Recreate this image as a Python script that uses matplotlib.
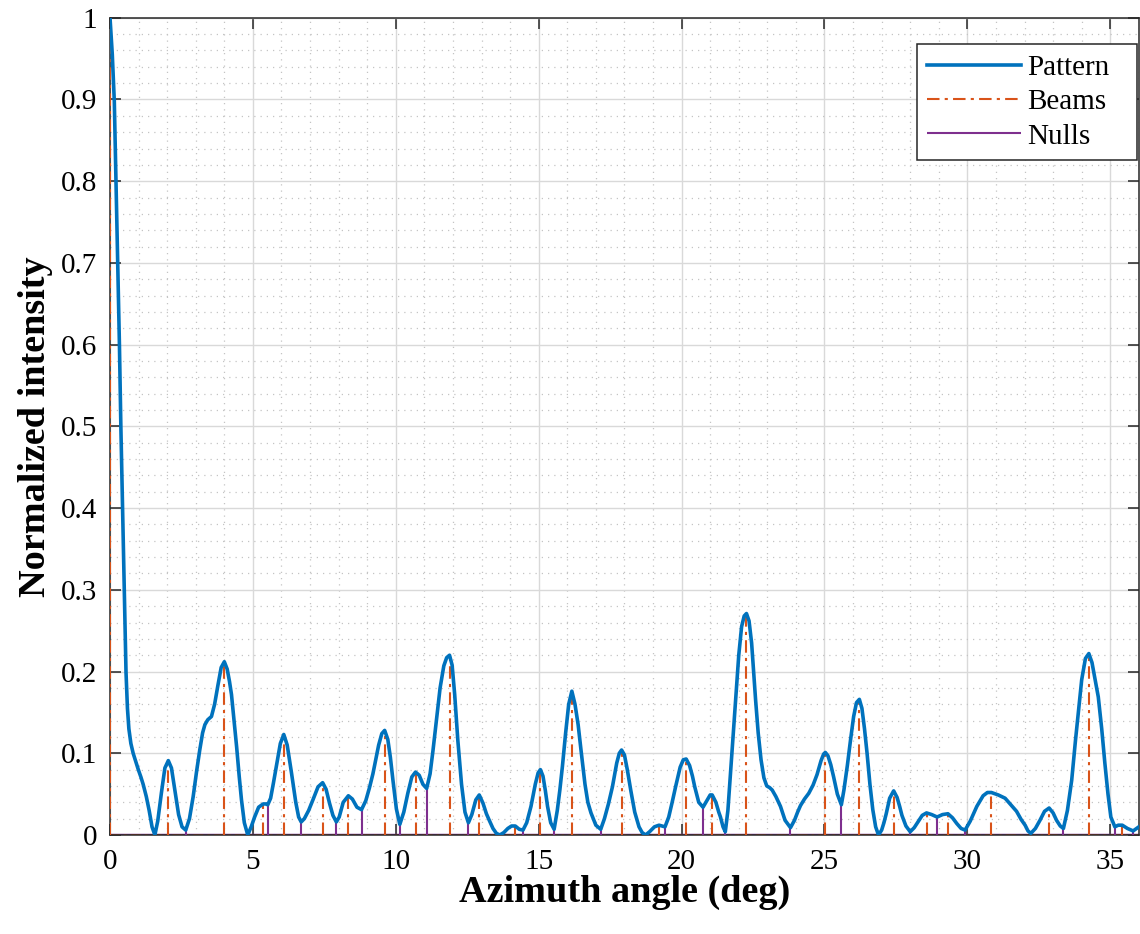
import numpy as np
import matplotlib.pyplot as plt
from matplotlib.ticker import MultipleLocator

# pattern curve (deg, normalized intensity)
ang = [0.00, 0.08, 0.15, 0.21, 0.27, 0.33, 0.38, 0.44, 0.50, 0.56, 0.61, 0.66, 0.73, 0.81,
       0.90, 0.99, 1.08, 1.16, 1.27, 1.37, 1.47, 1.57, 1.67, 1.80, 1.92, 2.04, 2.15, 2.27,
       2.40, 2.52, 2.65, 2.78, 2.91, 3.03, 3.14, 3.24, 3.32, 3.42, 3.55, 3.66, 3.78, 3.89,
       4.00, 4.10, 4.18, 4.25, 4.34, 4.43, 4.52, 4.60, 4.70, 4.82, 4.94, 5.06, 5.20, 5.36,
       5.45, 5.52, 5.62, 5.72, 5.82, 5.96, 6.08, 6.20, 6.35, 6.50, 6.60, 6.69, 6.80, 6.95,
       7.10, 7.28, 7.44, 7.56, 7.68, 7.80, 7.92, 8.02, 8.16, 8.34, 8.48, 8.64, 8.80, 8.95,
       9.08, 9.20, 9.40, 9.51, 9.61, 9.72, 9.81, 9.90, 10.02, 10.14, 10.28, 10.42, 10.56,
       10.69, 10.82, 10.95, 11.08, 11.20, 11.30, 11.41, 11.55, 11.68, 11.78, 11.88, 11.97,
       12.06, 12.17, 12.30, 12.42, 12.54, 12.66, 12.80, 12.92, 13.05, 13.17, 13.27, 13.40,
       13.52, 13.64, 13.78, 13.92, 14.05, 14.18, 14.32, 14.45, 14.58, 14.73, 14.88, 14.98,
       15.06, 15.15, 15.23, 15.31, 15.42, 15.54, 15.65, 15.74, 15.83, 15.94, 16.05, 16.16,
       16.27, 16.38, 16.48, 16.62, 16.72, 16.83, 17.00, 17.17, 17.30, 17.44, 17.58, 17.73,
       17.82, 17.90, 18.00, 18.10, 18.22, 18.36, 18.51, 18.62, 18.74, 18.88, 19.05, 19.21,
       19.32, 19.42, 19.55, 19.67, 19.79, 19.95, 20.06, 20.16, 20.28, 20.38, 20.46, 20.60,
       20.75, 20.90, 21.00, 21.07, 21.20, 21.30, 21.36, 21.45, 21.53, 21.62, 21.72, 21.80,
       21.89, 22.00, 22.10, 22.19, 22.27, 22.36, 22.45, 22.52, 22.59, 22.68, 22.78, 22.88,
       22.98, 23.08, 23.17, 23.30, 23.46, 23.62, 23.81, 23.95, 24.06, 24.16, 24.30, 24.45,
       24.60, 24.74, 24.88, 24.97, 25.03, 25.12, 25.22, 25.32, 25.45, 25.59, 25.68, 25.80,
       25.91, 26.02, 26.12, 26.22, 26.31, 26.40, 26.49, 26.59, 26.69, 26.79, 26.89, 27.00,
       27.08, 27.16, 27.28, 27.42, 27.54, 27.63, 27.71, 27.85, 28.00, 28.14, 28.27, 28.42,
       28.57, 28.75, 28.94, 29.13, 29.32, 29.48, 29.63, 29.78, 29.92, 30.10, 30.33, 30.55,
       30.70, 30.84, 31.08, 31.32, 31.52, 31.72, 31.88, 32.02, 32.12, 32.22, 32.38, 32.54,
       32.70, 32.86, 33.00, 33.12, 33.25, 33.36, 33.50, 33.65, 33.78, 33.88, 34.00, 34.13,
       34.25, 34.36, 34.47, 34.58, 34.70, 34.81, 34.92, 35.02, 35.16, 35.28, 35.42, 35.60,
       35.80, 36.00]
inten = [1.000, 0.955, 0.898, 0.799, 0.698, 0.599, 0.499, 0.399, 0.299, 0.199, 0.155, 0.130,
         0.112, 0.100, 0.090, 0.080, 0.071, 0.062, 0.047, 0.030, 0.010, 0.000, 0.017, 0.052,
         0.082, 0.091, 0.082, 0.055, 0.025, 0.010, 0.006, 0.020, 0.047, 0.078, 0.104, 0.125,
         0.135, 0.141, 0.145, 0.160, 0.184, 0.205, 0.212, 0.203, 0.188, 0.172, 0.140, 0.108,
         0.072, 0.043, 0.015, 0.000, 0.010, 0.022, 0.034, 0.038, 0.038, 0.037, 0.045, 0.064,
         0.084, 0.112, 0.123, 0.110, 0.076, 0.040, 0.022, 0.016, 0.020, 0.030, 0.043, 0.059,
         0.064, 0.056, 0.039, 0.024, 0.016, 0.022, 0.040, 0.048, 0.044, 0.034, 0.031, 0.042,
         0.058, 0.075, 0.110, 0.124, 0.128, 0.117, 0.095, 0.067, 0.032, 0.013, 0.028, 0.051,
         0.071, 0.077, 0.073, 0.062, 0.057, 0.075, 0.103, 0.137, 0.180, 0.207, 0.217, 0.220,
         0.208, 0.172, 0.116, 0.062, 0.028, 0.015, 0.025, 0.043, 0.049, 0.039, 0.026, 0.018,
         0.008, 0.002, 0.000, 0.003, 0.008, 0.011, 0.011, 0.007, 0.006, 0.015, 0.035, 0.062,
         0.076, 0.080, 0.072, 0.055, 0.035, 0.015, 0.007, 0.030, 0.055, 0.084, 0.124, 0.160,
         0.176, 0.160, 0.135, 0.104, 0.062, 0.040, 0.027, 0.012, 0.007, 0.020, 0.038, 0.059,
         0.088, 0.100, 0.104, 0.098, 0.080, 0.055, 0.028, 0.010, 0.003, 0.000, 0.004, 0.010,
         0.012, 0.011, 0.010, 0.022, 0.040, 0.059, 0.083, 0.092, 0.093, 0.085, 0.072, 0.059,
         0.040, 0.034, 0.043, 0.049, 0.049, 0.040, 0.028, 0.022, 0.010, 0.004, 0.030, 0.080,
         0.120, 0.165, 0.220, 0.255, 0.268, 0.271, 0.262, 0.235, 0.200, 0.165, 0.125, 0.092,
         0.070, 0.060, 0.058, 0.055, 0.047, 0.035, 0.018, 0.009, 0.018, 0.028, 0.036, 0.044,
         0.051, 0.061, 0.074, 0.091, 0.099, 0.101, 0.097, 0.086, 0.071, 0.050, 0.037, 0.055,
         0.085, 0.116, 0.145, 0.162, 0.166, 0.155, 0.130, 0.100, 0.062, 0.031, 0.010, 0.000,
         0.006, 0.015, 0.026, 0.045, 0.054, 0.046, 0.035, 0.024, 0.011, 0.004, 0.009, 0.016,
         0.024, 0.027, 0.025, 0.022, 0.025, 0.026, 0.021, 0.014, 0.008, 0.006, 0.017, 0.035,
         0.048, 0.052, 0.052, 0.049, 0.045, 0.037, 0.029, 0.019, 0.012, 0.005, 0.002, 0.008,
         0.018, 0.029, 0.033, 0.027, 0.018, 0.011, 0.008, 0.030, 0.067, 0.115, 0.149, 0.190,
         0.216, 0.222, 0.211, 0.190, 0.169, 0.130, 0.088, 0.050, 0.022, 0.010, 0.012, 0.012,
         0.008, 0.005, 0.010]

# beam directions and heights
beam_ang = [0.00, 2.04, 3.99, 5.36, 6.08, 7.44, 8.34, 9.61, 10.69, 11.88, 12.92, 14.18,
            15.06, 16.16, 17.90, 19.21, 20.16, 21.07, 22.27, 25.03, 26.22, 27.42, 28.57,
            29.32, 30.84, 32.86, 34.25, 35.42]
beam_val = [1.000, 0.091, 0.212, 0.038, 0.123, 0.064, 0.048, 0.128, 0.077, 0.220, 0.049,
            0.011, 0.080, 0.176, 0.104, 0.012, 0.093, 0.049, 0.271, 0.101, 0.166, 0.054,
            0.027, 0.026, 0.052, 0.033, 0.222, 0.012]

# null directions and heights
null_ang = [2.65, 5.52, 6.69, 7.92, 8.80, 10.14, 11.08, 12.54, 14.45, 15.54, 17.17, 19.42,
            20.75, 21.53, 23.81, 25.59, 28.00, 28.94, 29.92, 33.36, 35.16, 35.80]
null_val = [0.006, 0.037, 0.016, 0.016, 0.031, 0.013, 0.057, 0.015, 0.006, 0.007, 0.007,
            0.010, 0.034, 0.004, 0.009, 0.037, 0.004, 0.022, 0.006, 0.008, 0.010, 0.005]

plt.rcParams['font.family'] = ['Liberation Serif', 'DejaVu Serif']

fig = plt.figure(figsize=(11.4, 9.34), dpi=100)
ax = fig.add_axes([0.0965, 0.106, 0.9025, 0.875])

blue = '#0072BD'
red = '#D95319'
purple = '#7E2F8E'
dashdot = (0, (6, 2.5, 1.5, 2.5))

ax.plot(ang, inten, color=blue, lw=2.6, label='Pattern', zorder=4)
ax.vlines(beam_ang, 0, beam_val, colors=red, linestyles=dashdot, lw=1.5,
          label='Beams', zorder=3)
ax.vlines(null_ang, 0, null_val, colors=purple, lw=1.5, label='Nulls', zorder=3)
ax.axhline(0, color=purple, lw=2.5, zorder=2)
ax.axhline(0, color=red, lw=1.2, ls=dashdot, zorder=2)

ax.set_xlim(0, 36)
ax.set_ylim(0, 1)
ax.xaxis.set_major_locator(MultipleLocator(5))
ax.xaxis.set_minor_locator(MultipleLocator(1))
ax.yaxis.set_minor_locator(MultipleLocator(0.02))
ax.set_yticks(np.arange(0, 1.01, 0.1))
ax.set_yticklabels(['0', '0.1', '0.2', '0.3', '0.4', '0.5', '0.6', '0.7', '0.8', '0.9', '1'])

ax.grid(which='major', color='#d9d9d9', lw=1.0)
ax.grid(which='minor', color='#c4c4c4', lw=0.9, ls=(0, (1, 4)))
ax.set_axisbelow(True)
ax.tick_params(which='major', direction='in', length=8, width=1.1, top=True, right=True,
               labelsize=21, color='#262626')
ax.tick_params(axis='x', pad=10)
ax.tick_params(axis='y', pad=9)
ax.tick_params(which='minor', length=0)
for s in ax.spines.values():
    s.set_color('#262626')
    s.set_linewidth(1.1)

ax.set_xlabel('Azimuth angle (deg)', fontsize=27.5, fontweight='bold', labelpad=0)
ax.set_ylabel('Normalized intensity', fontsize=27.5, fontweight='bold', labelpad=6)

# legend box spread over the same area as in the picture
leg = ax.legend(loc='upper right', mode='expand',
                bbox_to_anchor=(917 / 1140, 1 - 155 / 934, 220 / 1140, 111 / 934),
                bbox_transform=fig.transFigure, borderaxespad=0, fontsize=21,
                handlelength=3.22, fancybox=False, edgecolor='#262626', framealpha=1,
                labelspacing=0.27, handletextpad=0.2, borderpad=0.36)
leg.get_frame().set_linewidth(1.1)

fig.savefig('out.png', dpi=100)
